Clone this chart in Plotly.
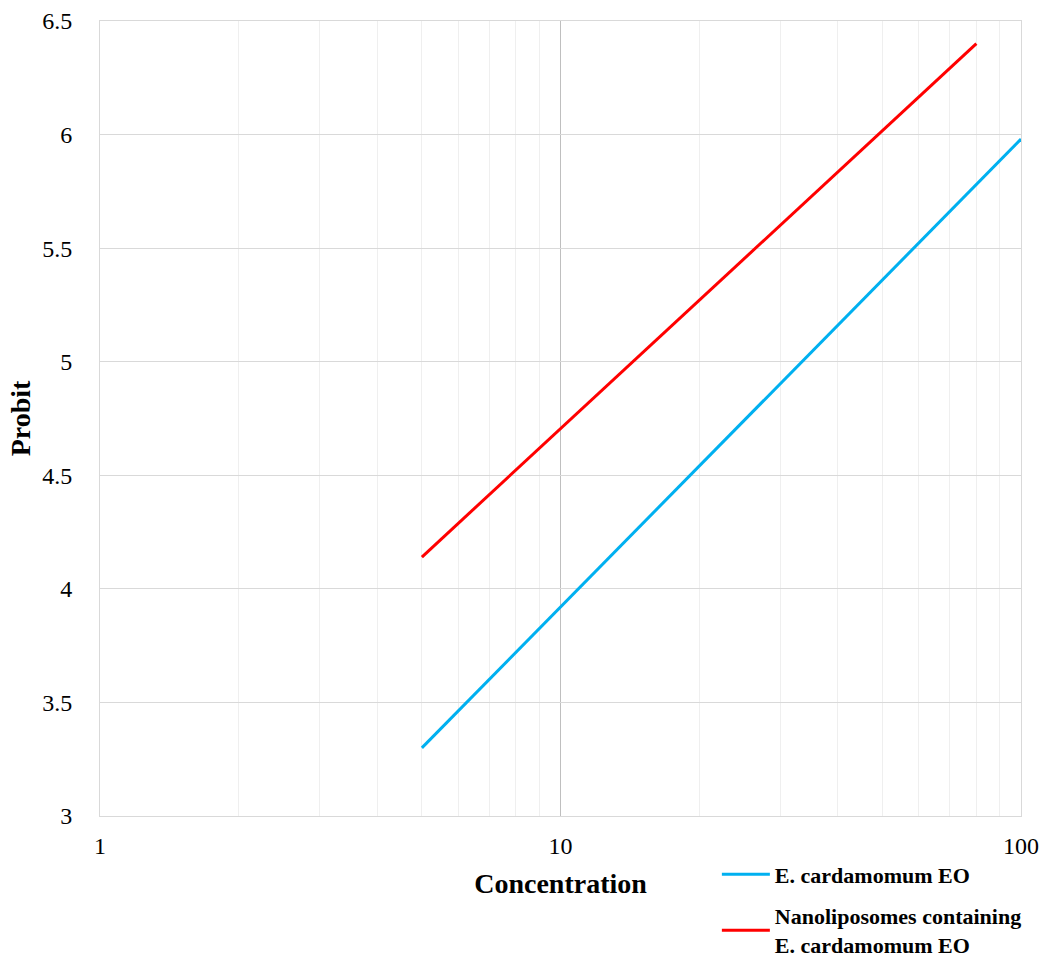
import plotly.graph_objects as go

# Data
conc_eo = [5, 100]
probit_eo = [3.30, 5.98]
conc_nano = [5, 80]
probit_nano = [4.14, 6.40]
series_names = ["E. cardamomum EO", "Nanoliposomes containing<br>E. cardamomum EO"]
x_ticks = [1, 10, 100]
y_ticks = [3, 3.5, 4, 4.5, 5, 5.5, 6, 6.5]
y_tick_labels = ["3", "3.5", "4", "4.5", "5", "5.5", "6", "6.5"]
minor_x = [2, 3, 4, 5, 6, 7, 8, 9, 20, 30, 40, 50, 60, 70, 80, 90]

FONT = "Liberation Serif, Times New Roman, serif"

fig = go.Figure()
fig.add_trace(go.Scatter(x=conc_eo, y=probit_eo, mode="lines", name=series_names[0],
                         legendgroup="eo", line=dict(color="#00b0f0", width=3)))
fig.add_trace(go.Scatter(x=conc_nano, y=probit_nano, mode="lines", name=series_names[1],
                         legendgroup="nano", line=dict(color="#ff0000", width=3)))

fig.update_layout(
    autosize=True,
    margin=dict(l=100, r=24, t=21, b=143, autoexpand=False),
    paper_bgcolor="white", plot_bgcolor="white",
    font=dict(family=FONT, color="black", size=24),
    legend=dict(xref="container", yref="container", x=0.686, xanchor="left",
                y=0.110, yanchor="top",
                font=dict(family=FONT, size=22, color="black", weight="bold"),
                tracegroupgap=10, itemwidth=48, bgcolor="rgba(0,0,0,0)"),
    xaxis=dict(
        type="log", range=[0, 2],
        tickvals=x_ticks, ticktext=[str(v) for v in x_ticks],
        showgrid=True, gridcolor="#bfbfbf", gridwidth=1,
        minor=dict(tickvals=minor_x, showgrid=True, gridcolor="#efefef", gridwidth=1, ticks=""),
        showline=True, linecolor="#d9d9d9", mirror=True, linewidth=1,
        ticks="", tickfont=dict(size=24), zeroline=False, ticklabelstandoff=8,
        title=dict(text="<b>Concentration</b>", font=dict(size=28), standoff=15),
    ),
    yaxis=dict(
        range=[3, 6.5], tickvals=y_ticks, ticktext=y_tick_labels,
        showgrid=True, gridcolor="#d9d9d9", gridwidth=1,
        showline=True, linecolor="#d9d9d9", mirror=True, linewidth=1,
        ticks="", tickfont=dict(size=24), zeroline=False, ticklabelstandoff=22,
        title=dict(text="<b>Probit</b>", font=dict(size=28), standoff=3),
    ),
)

post = ("document.documentElement.style.margin='0';"
        "document.body.style.margin='0';"
        "document.body.style.overflow='hidden';"
        "var gd=document.getElementById('{plot_id}');"
        "gd.style.width='100vw';gd.style.height='100vh';"
        "Plotly.Plots.resize(gd);")

fig.write_html("out.html", config={"displayModeBar": False, "responsive": True},
               default_width="100vw", default_height="100vh", post_script=post)
